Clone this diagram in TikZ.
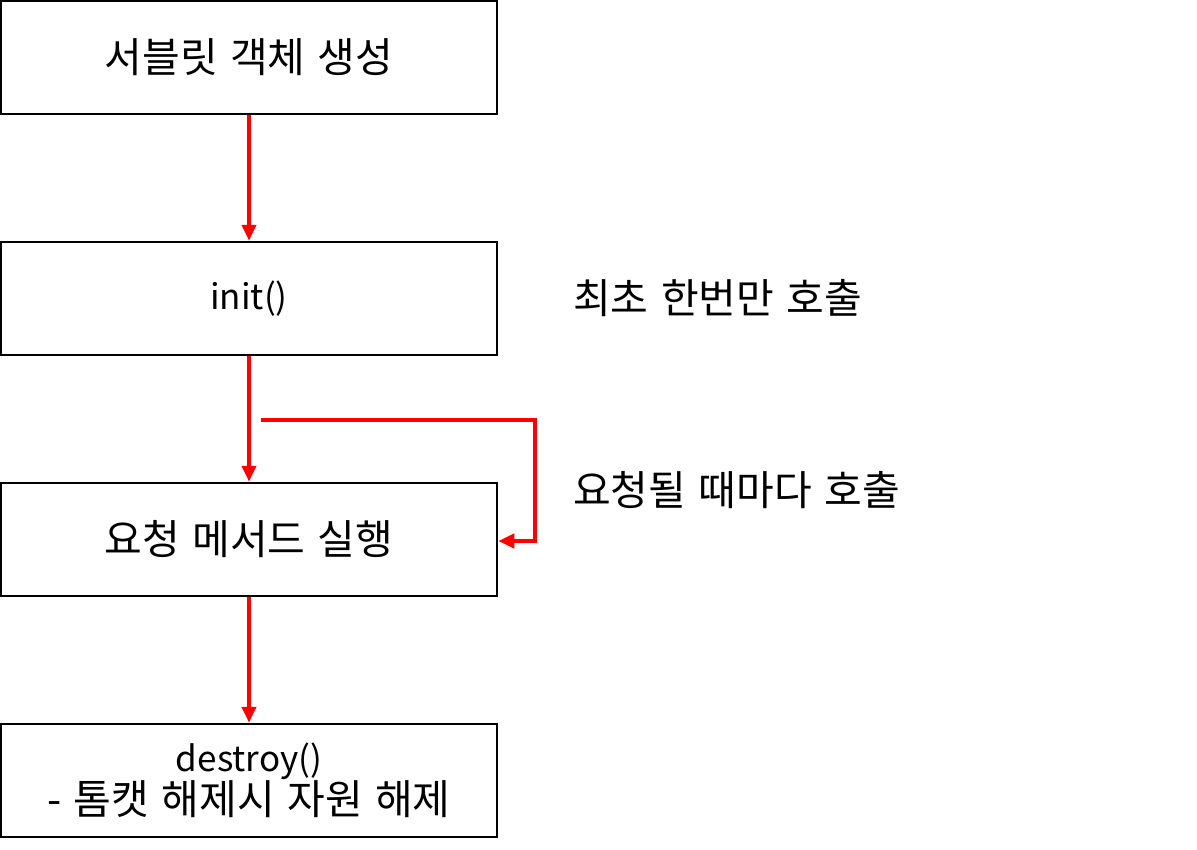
\documentclass[tikz,border=0pt]{standalone}
\usepackage{fontspec}
\setmainfont[WordSpace=1.35]{Noto Sans CJK KR}
\usetikzlibrary{arrows.meta}
\begin{document}
\begin{tikzpicture}[x=1pt,y=-1pt,
  stagebox/.style={draw=black,line width=2.5pt,minimum width=496pt,minimum height=113pt,inner sep=0pt,font=\fontsize{41}{43}\selectfont,align=center},
  latin/.style={font=\fontsize{35}{43}\selectfont},
  flow/.style={draw=red,line width=4pt,-{Triangle[width=14pt,length=16pt]}},
  note/.style={anchor=west,inner sep=0pt,font=\fontsize{41}{43}\selectfont}]
\useasboundingbox (0,0) rectangle (1197,849);
\node[stagebox] (b1) at (249,57.5) {서블릿 객체 생성};
\node[stagebox,latin] (b2) at (249,298.5) {init()};
\node[stagebox] (b3) at (249,539.5) {요청 메서드 실행};
\node[stagebox] (b4) at (249,780.5) {{\fontsize{35}{43}\selectfont destroy()}\\- 톰캣 해제시 자원 해제};
\node[note] (n1) at (573,298) {최초 한번만 호출};
\node[note] (n2) at (573,490) {요청될 때마다 호출};
\coordinate (ls) at (261,420);
\coordinate (lc) at (535,420);
\draw[flow] (b1.south) -- (b2.north);
\draw[flow] (b2.south) -- (b3.north);
\draw[flow] (b3.south) -- (b4.north);
\draw[flow] (ls) -- (lc) |- (b3.east |- 0,541);
\end{tikzpicture}
\end{document}
